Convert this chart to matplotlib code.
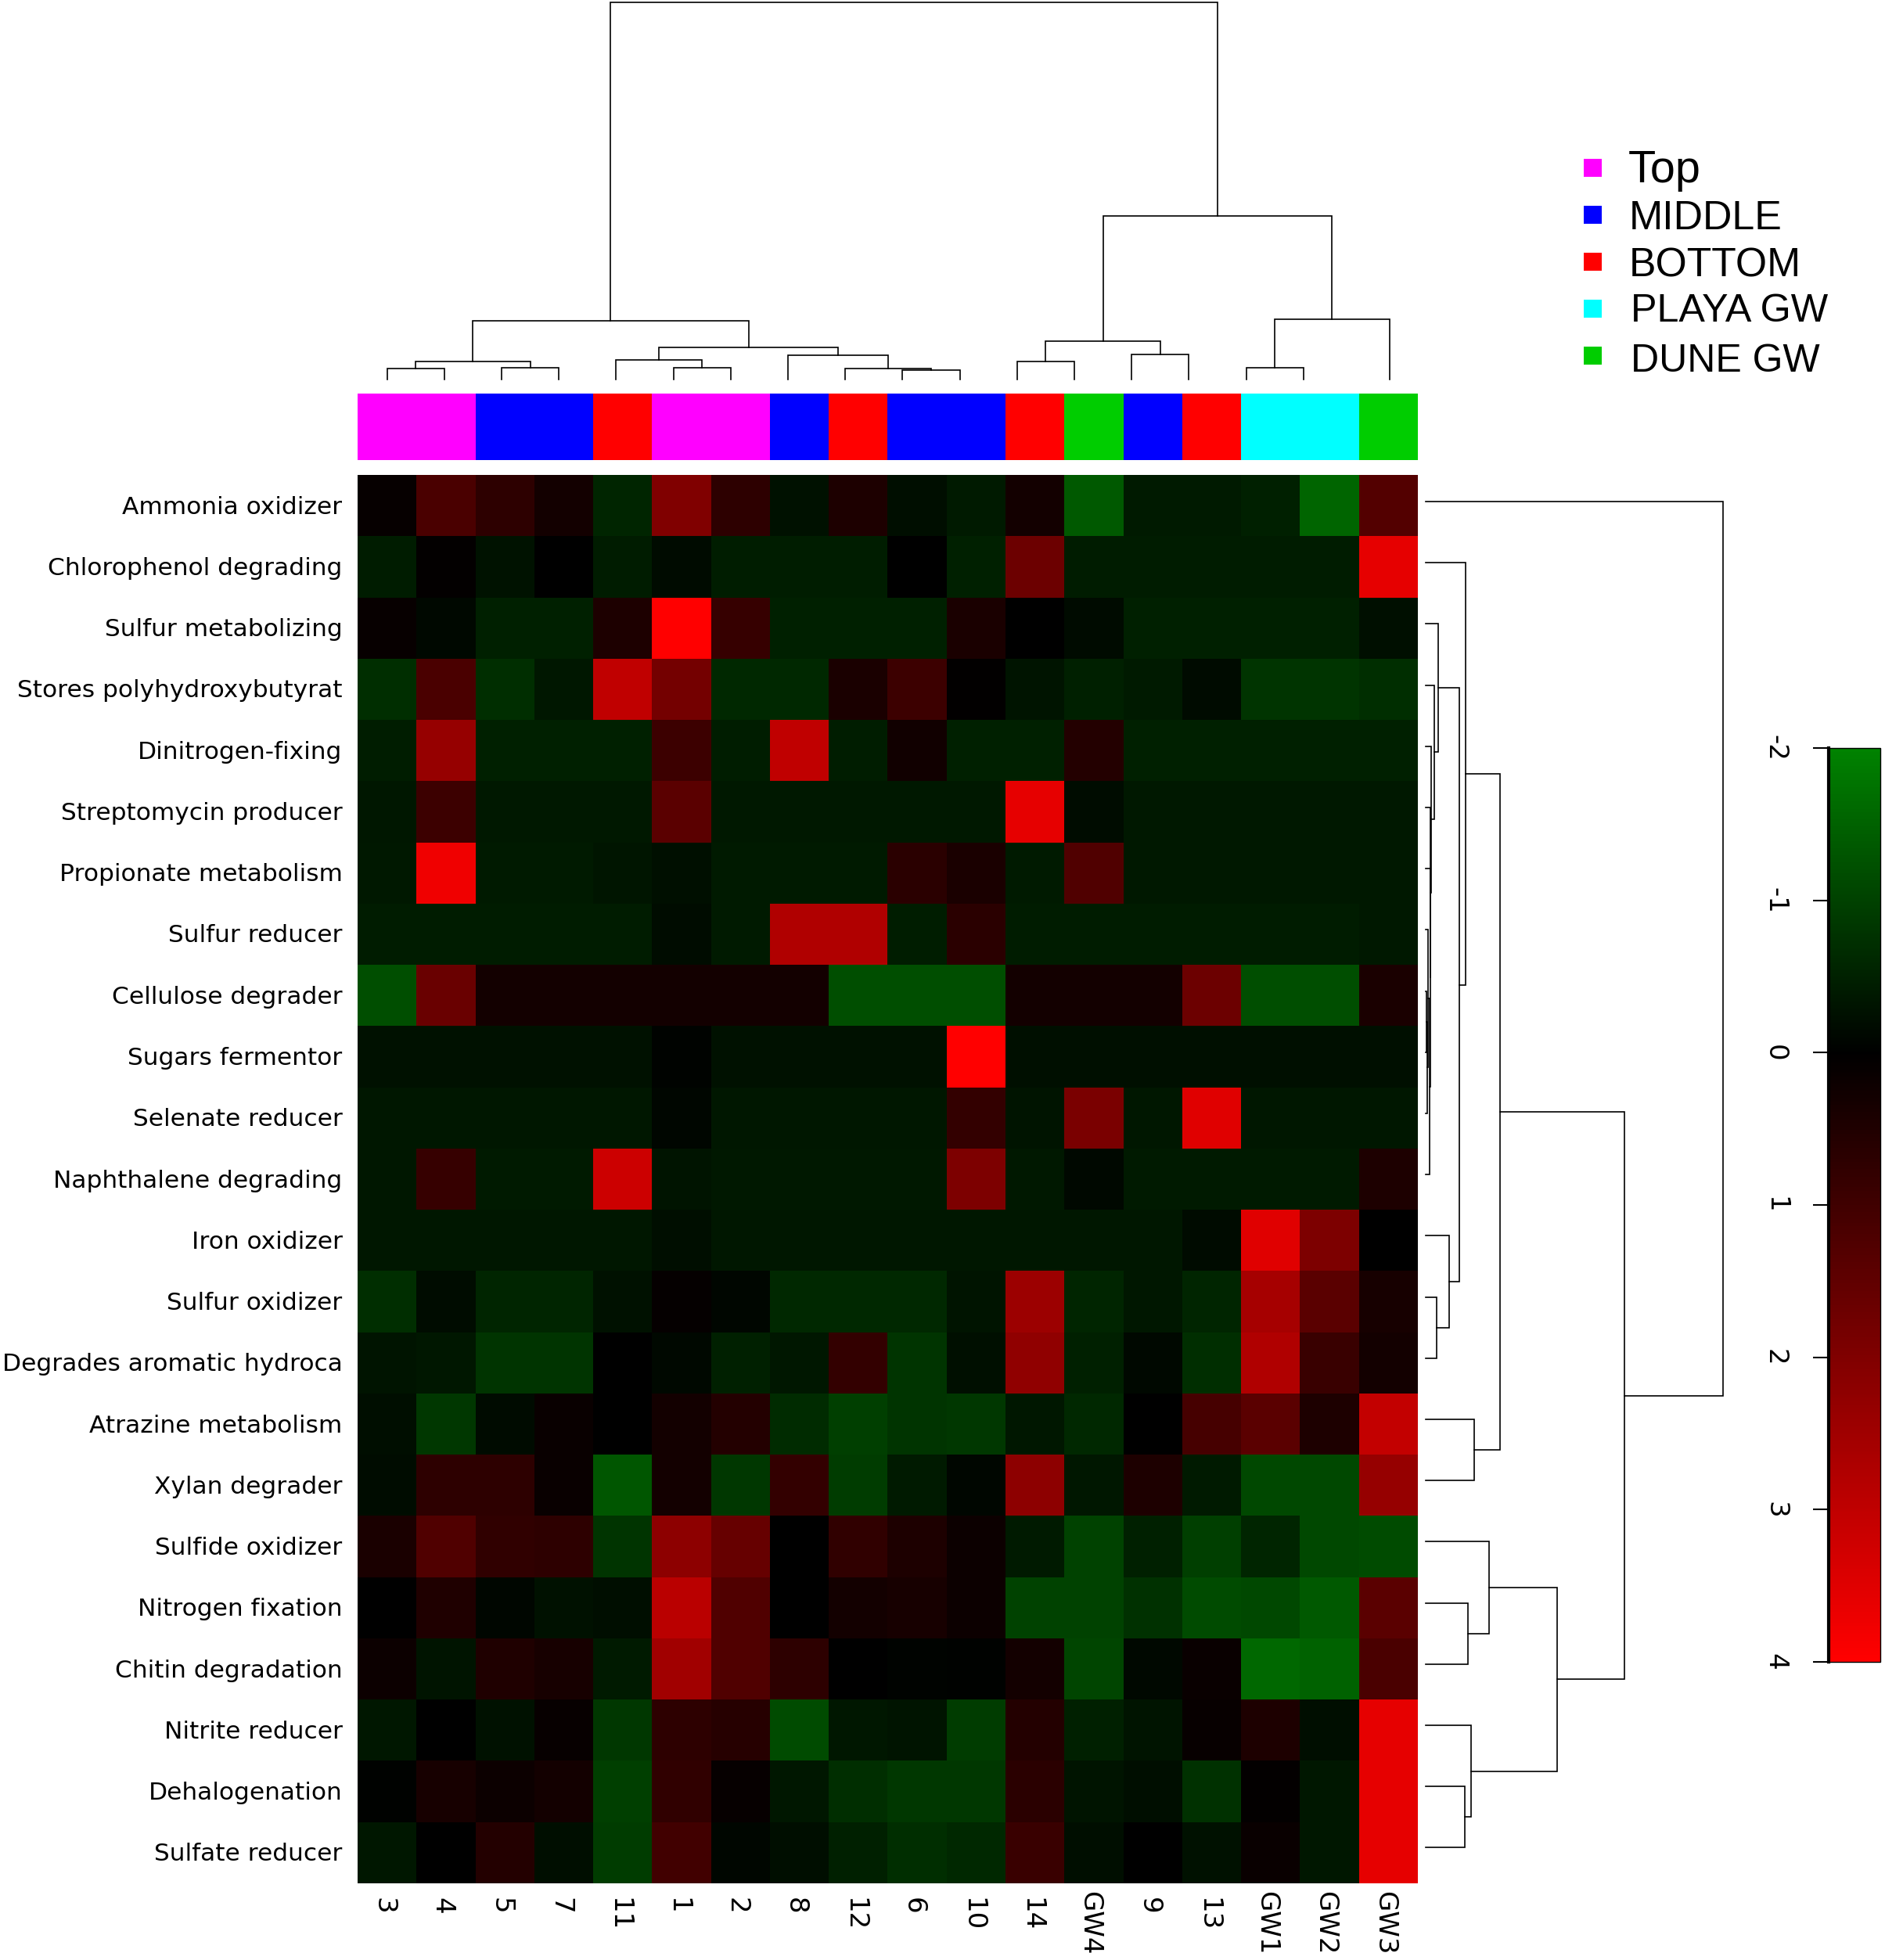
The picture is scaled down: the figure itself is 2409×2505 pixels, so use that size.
import numpy as np
import matplotlib
matplotlib.use("Agg")
import matplotlib.pyplot as plt
from matplotlib.colors import LinearSegmentedColormap, Normalize, ListedColormap
from matplotlib.transforms import ScaledTranslation

W, H = 2409, 2505
DPI = 100

columns = ["3","4","5","7","11","1","2","8","12","6","10","14","GW4","9","13","GW1","GW2","GW3"]
rows = ["Ammonia oxidizer","Chlorophenol degrading","Sulfur metabolizing","Stores polyhydroxybutyrat",
        "Dinitrogen-fixing","Streptomycin producer","Propionate metabolism","Sulfur reducer",
        "Cellulose degrader","Sugars fermentor","Selenate reducer","Naphthalene degrading",
        "Iron oxidizer","Sulfur oxidizer","Degrades aromatic hydroca","Atrazine metabolism",
        "Xylan degrader","Sulfide oxidizer","Nitrogen fixation","Chitin degradation",
        "Nitrite reducer","Dehalogenation","Sulfate reducer"]

r00 = [0.1,1.15,0.7,0.3,-0.55,2.0,0.7,-0.25,0.45,-0.2,-0.4,0.3,-1.35,-0.4,-0.4,-0.5,-1.55,1.3]
r01 = [-0.42,0.05,-0.28,0.0,-0.42,-0.15,-0.45,-0.45,-0.45,0.0,-0.5,1.7,-0.42,-0.42,-0.42,-0.42,-0.42,3.6]
r02 = [0.12,-0.12,-0.5,-0.5,0.45,4.0,0.85,-0.5,-0.5,-0.5,0.4,0.0,-0.15,-0.5,-0.5,-0.5,-0.5,-0.22]
r03 = [-0.7,1.15,-0.7,-0.35,3.0,1.8,-0.6,-0.6,0.4,0.95,0.02,-0.3,-0.5,-0.4,-0.15,-0.8,-0.8,-0.7]
r04 = [-0.45,2.35,-0.5,-0.5,-0.5,0.95,-0.45,3.0,-0.45,0.25,-0.5,-0.5,0.55,-0.5,-0.5,-0.5,-0.5,-0.5]
r05 = [-0.35,0.95,-0.38,-0.38,-0.38,1.4,-0.38,-0.38,-0.38,-0.38,-0.38,3.6,-0.18,-0.38,-0.38,-0.38,-0.38,-0.38]
r06 = [-0.38,3.75,-0.4,-0.4,-0.32,-0.22,-0.4,-0.4,-0.4,0.65,0.4,-0.4,1.25,-0.38,-0.38,-0.38,-0.38,-0.38]
r07 = [-0.42,-0.42,-0.42,-0.42,-0.42,-0.18,-0.4,2.75,2.75,-0.45,0.65,-0.42,-0.42,-0.42,-0.42,-0.42,-0.42,-0.38]
r08 = [-1.2,1.65,0.3,0.3,0.3,0.3,0.3,0.3,-1.2,-1.2,-1.2,0.3,0.3,0.3,1.7,-1.2,-1.2,0.4]
r09 = [-0.25,-0.25,-0.25,-0.25,-0.25,-0.05,-0.25,-0.25,-0.25,-0.25,4.0,-0.22,-0.22,-0.22,-0.22,-0.22,-0.22,-0.22]
r10 = [-0.35,-0.35,-0.35,-0.35,-0.35,-0.08,-0.35,-0.35,-0.35,-0.35,0.8,-0.3,1.9,-0.35,3.5,-0.35,-0.35,-0.35]
r11 = [-0.35,0.85,-0.4,-0.4,3.2,-0.3,-0.38,-0.38,-0.38,-0.38,1.95,-0.38,-0.12,-0.4,-0.4,-0.4,-0.4,0.45]
r12 = [-0.35,-0.35,-0.35,-0.35,-0.35,-0.2,-0.35,-0.35,-0.35,-0.35,-0.35,-0.35,-0.35,-0.35,-0.15,3.5,1.95,0.0]
r13 = [-0.7,-0.18,-0.55,-0.55,-0.25,0.08,-0.08,-0.6,-0.6,-0.6,-0.3,2.45,-0.55,-0.35,-0.55,2.6,1.4,0.35]
r14 = [-0.3,-0.35,-0.8,-0.8,0.0,-0.12,-0.5,-0.35,0.8,-0.8,-0.22,2.25,-0.5,-0.12,-0.7,2.75,0.9,0.3]
r15 = [-0.2,-0.85,-0.15,0.15,0.0,0.3,0.55,-0.65,-0.95,-0.8,-0.85,-0.35,-0.6,0.0,1.1,1.4,0.45,3.05]
r16 = [-0.18,0.7,0.7,0.15,-1.3,0.3,-0.85,0.8,-0.9,-0.4,-0.08,2.2,-0.35,0.45,-0.4,-1.1,-1.1,2.35]
r17 = [0.4,1.25,0.75,0.7,-0.8,2.2,1.6,0.0,0.75,0.45,0.2,-0.4,-1.0,-0.5,-0.95,-0.55,-1.1,-1.15]
r18 = [0.0,0.5,-0.08,-0.25,-0.2,2.9,1.25,0.0,0.3,0.35,0.2,-1.0,-1.0,-0.75,-1.15,-1.1,-1.35,1.4]
r19 = [0.2,-0.3,0.5,0.35,-0.4,2.5,1.25,0.7,0.0,-0.05,-0.03,0.3,-1.05,-0.12,0.15,-1.6,-1.5,1.15]
r20 = [-0.35,0.0,-0.25,0.12,-0.85,0.7,0.6,-1.15,-0.35,-0.3,-0.9,0.55,-0.5,-0.3,0.12,0.45,-0.2,3.6]
r21 = [-0.03,0.35,0.18,0.3,-0.95,0.75,0.1,-0.35,-0.7,-0.85,-0.85,0.65,-0.3,-0.2,-0.75,0.05,-0.35,3.6]
r22 = [-0.35,0.0,0.55,-0.2,-0.9,1.0,-0.08,-0.2,-0.5,-0.7,-0.6,0.9,-0.2,0.0,-0.25,0.15,-0.35,3.6]
matrix = np.array([r00,r01,r02,r03,r04,r05,r06,r07,r08,r09,r10,r11,r12,r13,r14,r15,r16,r17,r18,r19,r20,r21,r22])

col_groups = ["Top","Top","MIDDLE","MIDDLE","BOTTOM","Top","Top","MIDDLE","BOTTOM","MIDDLE","MIDDLE",
              "BOTTOM","DUNE GW","MIDDLE","BOTTOM","PLAYA GW","PLAYA GW","DUNE GW"]
legend_names = ["Top","MIDDLE","BOTTOM","PLAYA GW","DUNE GW"]
legend_colors = ["#ff00ff","#0000ff","#ff0000","#00ffff","#00cd00"]

# linkage tables: scipy convention, leaves 0..n-1, then clusters n, n+1, ...
col_left   = [0,2,18,5,4,9,8,7,22,20,11,13,28,15,31,30,27]
col_right  = [1,3,19,6,21,10,23,24,25,26,12,14,29,16,17,32,33]
col_height = [34,37,58,37,63,29,34,79,105,194,60,81,126,37,199,544,1257]
col_leaf_pos = [0,1,2,3,4,5,6,7,8,9,10,11,12,13,14,15,16,17.5]

row_left   = [8,23,7,25,6,5,4,3,2,13,12,31,1,15,35,18,17,21,20,39,37,0]
row_right  = [9,10,24,11,26,27,28,29,30,14,32,33,34,16,36,19,38,22,40,41,42,43]
row_height = [1.3,1.7,2.7,4.7,5.7,6.3,7.3,11.3,16.3,14.3,30.3,43.3,51.3,62.3,95.3,54,81,50,57.6,167.6,253.5,380.3]
row_leaf_pos = list(range(23))

cbar_ticks = [-2,-1,0,1,2,3,4]

def box(x0, y0, x1, y1):
    return [x0/W, 1-y1/H, (x1-x0)/W, (y1-y0)/H]

cmap = LinearSegmentedColormap.from_list("gbr", [(0,(0,130/255,0)),(1/3,(0,0,0)),(1,(1,0,0))], N=256)
norm = Normalize(-2, 4)

fig = plt.figure(figsize=(W/DPI, H/DPI), dpi=DPI, facecolor="white")
plt.rcParams["font.family"] = "DejaVu Sans"
HX0, HX1, HY0, HY1 = 457, 1812, 607, 2407

def nudge(t, dx, dy):
    t.set_transform(t.get_transform() + ScaledTranslation(dx/DPI, dy/DPI, fig.dpi_scale_trans))

ax = fig.add_axes(box(HX0, HY0, HX1, HY1))
mesh = ax.pcolormesh(np.arange(19), np.arange(24), matrix, cmap=cmap, norm=norm, rasterized=True)
ax.set_ylim(23, 0); ax.set_xlim(0, 18)
for s in ax.spines.values():
    s.set_visible(False)
ax.set_xticks(np.arange(18)+.5, columns, rotation=-90, fontsize=24.5)
ax.set_yticks(np.arange(23)+.5, rows, fontsize=22.5)
ax.tick_params(axis="both", length=0)
ax.tick_params(axis="y", pad=14)
ax.tick_params(axis="x", pad=13)
for t in ax.get_xticklabels():
    nudge(t, -5, 8 if t.get_text().startswith("GW") else 0)
for t in ax.get_yticklabels():
    nudge(t, 0, 1)

# side colour bar
axc = fig.add_axes(box(HX0, 503, HX1, 588))
idx = [legend_names.index(g) for g in col_groups]
axc.pcolormesh(np.arange(19), [0,1], [idx], cmap=ListedColormap(legend_colors), vmin=0, vmax=4)
axc.axis("off")

def dendro(ax, left, right, height, pos, horizontal=False):
    pos = list(pos); hs = [0]*len(pos)
    for l, r, h in zip(left, right, height):
        xs = [pos[l], pos[l], pos[r], pos[r]]
        ys = [hs[l], h, h, hs[r]]
        if horizontal:
            ax.plot(ys, xs, color="black", lw=1.2, solid_joinstyle="miter", clip_on=False)
        else:
            ax.plot(xs, ys, color="black", lw=1.2, solid_joinstyle="miter", clip_on=False)
        pos.append((pos[l]+pos[r])/2); hs.append(h)

axt = fig.add_axes(box(494.5, 3.4, 1775.6, 484.5))
dendro(axt, col_left, col_right, col_height, col_leaf_pos)
axt.set_xlim(0, 17.5); axt.set_ylim(0, 1257); axt.axis("off")

axr = fig.add_axes(box(1822, 640.9, 2202.3, 2361.3))
dendro(axr, row_left, row_right, row_height, row_leaf_pos, horizontal=True)
axr.set_xlim(0, 380.3); axr.set_ylim(22, 0); axr.axis("off")

# colour key
cax = fig.add_axes(box(2337, 956, 2403, 2124))
cb = fig.colorbar(mesh, cax=cax, ticks=cbar_ticks)
cax.invert_yaxis()
cax.yaxis.set_ticks_position("left")
cax.tick_params(axis="y", length=14.5, width=1.5, pad=23, labelsize=24.5, labelrotation=-90)
for t in cax.get_yticklabels():
    t.set_va("center")
cb.outline.set_linewidth(1)
cax.spines["left"].set_visible(True)
cax.spines["left"].set_linewidth(3)
cb.set_ticklabels([str(t) for t in cbar_ticks])

# legend
axl = fig.add_axes(box(2024, 203, 2409, 503))
axl.set_xlim(0, 385); axl.set_ylim(5, 0); axl.axis("off")
legend_x = [57, 58, 58, 60, 60]
legend_dy = [0.5, 0.5, 0.5, 0.47, 0.53]
legend_size = [41.5, 37.4, 37.2, 36.2, 36]
for i, (n, c) in enumerate(zip(legend_names, legend_colors)):
    axl.add_patch(plt.Rectangle((0, i), 23, 23/60, facecolor=c, edgecolor="none"))
    axl.text(legend_x[i], i+legend_dy[i], n, fontsize=legend_size[i], family="Liberation Sans", va="baseline", ha="left")

fig.savefig("out.png", dpi=DPI, facecolor="white")
